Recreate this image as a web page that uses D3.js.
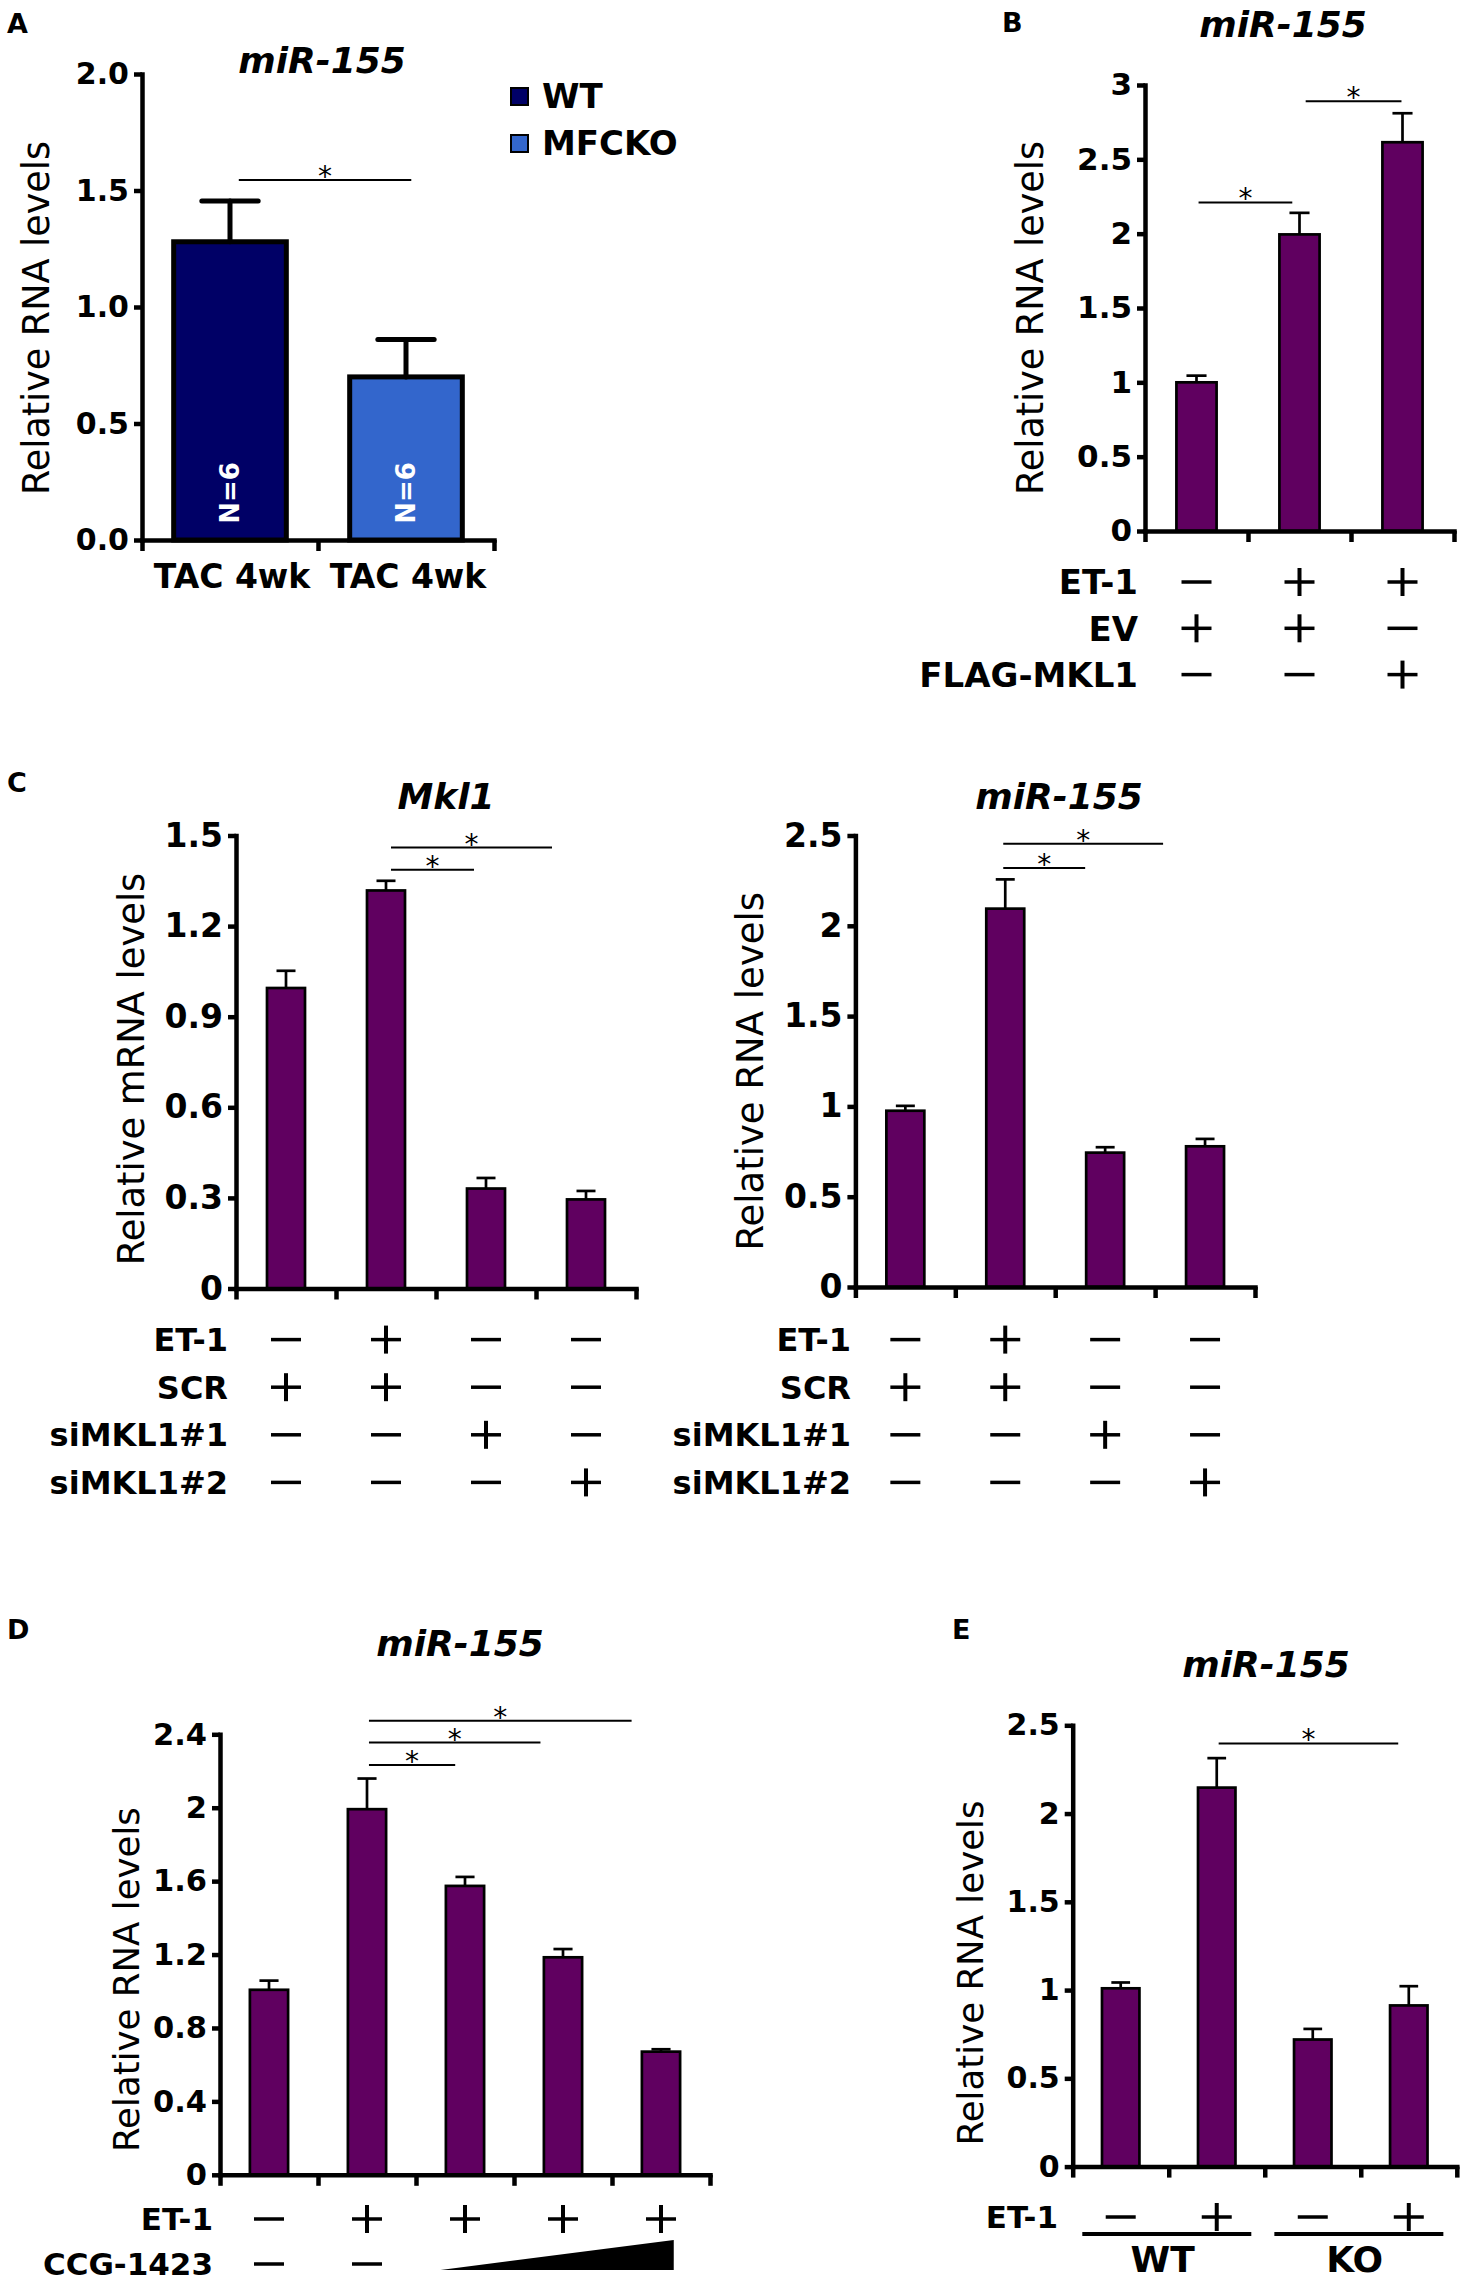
<!DOCTYPE html>
<html>
<head>
<meta charset="utf-8">
<script src="https://cdn.jsdelivr.net/npm/d3@7"></script>
<style>
  body { margin: 0; background: #fff; }
  svg text { font-family: "DejaVu Sans", sans-serif; }
</style>
</head>
<body>
<svg id="fig" width="1461" height="2284"></svg>
<script>
// ---- data ----
// A: miR-155 after TAC 4wk
var aCategories = ["TAC 4wk", "TAC 4wk"];
var aSeries = ["WT", "MFCKO"];
var aMeans = [1.28, 0.70];
var aErrs = [0.175, 0.16];
var aTicks = [0, 0.5, 1.0, 1.5, 2.0];
var aTickLabels = ["0.0", "0.5", "1.0", "1.5", "2.0"];
var aSig = [[0.05, 1.03, 1.545]];

// B: miR-155, ET-1 / EV / FLAG-MKL1
var bMeans = [1.0, 1.995, 2.615];
var bErrs = [0.045, 0.145, 0.195];
var bTicks = [0, 0.5, 1, 1.5, 2, 2.5, 3];
var bTickLabels = ["0", "0.5", "1", "1.5", "2", "2.5", "3"];
var bRows = ["ET-1", "EV", "FLAG-MKL1"];
var bSigns = [["-", "+", "+"], ["+", "+", "-"], ["-", "-", "+"]];
var bSig = [[0.02, 0.93, 2.21], [1.06, 1.99, 2.89]];

// C: Mkl1 and miR-155 with siMKL1
var cRows = ["ET-1", "SCR", "siMKL1#1", "siMKL1#2"];
var cSigns = [["-", "+", "-", "-"], ["+", "+", "-", "-"], ["-", "-", "+", "-"], ["-", "-", "-", "+"]];
var cMklMeans = [0.995, 1.318, 0.331, 0.295];
var cMklErrs = [0.057, 0.032, 0.035, 0.028];
var cMklTicks = [0, 0.3, 0.6, 0.9, 1.2, 1.5];
var cMklTickLabels = ["0", "0.3", "0.6", "0.9", "1.2", "1.5"];
var cMklSig = [[1.05, 2.66, 1.46], [1.05, 1.88, 1.387]];
var cMirMeans = [0.976, 2.095, 0.744, 0.779];
var cMirErrs = [0.027, 0.162, 0.03, 0.041];
var cMirTicks = [0, 0.5, 1, 1.5, 2, 2.5];
var cMirTickLabels = ["0", "0.5", "1", "1.5", "2", "2.5"];
var cMirSig = [[0.98, 2.58, 2.454], [0.98, 1.8, 2.32]];

// D: miR-155 with CCG-1423 dose
var dMeans = [1.008, 1.992, 1.574, 1.185, 0.671];
var dErrs = [0.05, 0.167, 0.049, 0.045, 0.013];
var dTicks = [0, 0.4, 0.8, 1.2, 1.6, 2, 2.4];
var dTickLabels = ["0", "0.4", "0.8", "1.2", "1.6", "2", "2.4"];
var dRows = ["ET-1", "CCG-1423"];
var dSigns = [["-", "+", "+", "+", "+"], ["-", "-", "w", "w", "w"]];
var dSig = [[1.02, 1.9, 2.233], [1.02, 2.77, 2.355], [1.02, 3.70, 2.474]];

// E: miR-155 WT vs KO
var eMeans = [1.01, 2.147, 0.72, 0.913];
var eErrs = [0.033, 0.167, 0.06, 0.109];
var eTicks = [0, 0.5, 1, 1.5, 2, 2.5];
var eTickLabels = ["0", "0.5", "1", "1.5", "2", "2.5"];
var eRows = ["ET-1"];
var eSigns = [["-", "+", "-", "+"]];
var eGroups = ["WT", "KO"];
var eGroupIdx = [[0, 1], [2, 3]];
var eSig = [[1.02, 2.89, 2.397]];

var purple = "#600060";
var svg = d3.select("#fig");

function drawPanel(p) {
	var n = p.means.length;
	var g = svg.append("g");
	var y = d3.scaleLinear().domain([0, p.yMax]).range([p.y0, p.y1]);
	var xc = d3.scaleLinear().domain([-0.5, n - 0.5]).range([p.x0, p.x1]);
	var xe = d3.scaleLinear().domain([0, n]).range([p.x0, p.x1]);
	var bw = (p.x1 - p.x0) / n;
	var barW = bw * p.barFrac;

	// bars
	g.selectAll("rect.bar").data(p.means).enter().append("rect")
		.attr("class", "bar")
		.attr("x", function(d, i) { return xc(i) - barW / 2; })
		.attr("y", function(d) { return y(d); })
		.attr("width", barW)
		.attr("height", function(d) { return p.y0 - y(d); })
		.attr("fill", function(d, i) { return p.colors ? p.colors[i] : purple; })
		.attr("stroke", "#000")
		.attr("stroke-width", p.barStroke);

	// error bars
	var eb = g.selectAll("g.err").data(p.means).enter().append("g")
		.attr("stroke", "#000")
		.attr("stroke-width", p.barStroke)
		.attr("stroke-linecap", p.capStyle || "butt");
	eb.append("line")
		.attr("x1", function(d, i) { return xc(i); })
		.attr("x2", function(d, i) { return xc(i); })
		.attr("y1", function(d) { return y(d); })
		.attr("y2", function(d, i) { return y(d + p.errs[i]); });
	eb.append("line")
		.attr("x1", function(d, i) { return xc(i) - barW / 4; })
		.attr("x2", function(d, i) { return xc(i) + barW / 4; })
		.attr("y1", function(d, i) { return y(d + p.errs[i]); })
		.attr("y2", function(d, i) { return y(d + p.errs[i]); });

	// y axis
	var ya = g.append("g")
		.attr("transform", "translate(" + p.x0 + ",0)")
		.call(d3.axisLeft(y).tickValues(p.ticks)
			.tickFormat(function(d, i) { return p.tickLabels[i]; })
			.tickSize(8).tickPadding(5).tickSizeOuter(0));
	ya.select(".domain").attr("stroke-width", p.axisStroke).attr("stroke-linecap", "square");
	ya.selectAll(".tick line").attr("stroke-width", p.axisStroke);
	ya.selectAll(".tick text")
		.attr("font-size", p.tickFont)
		.attr("font-weight", "bold")
		.attr("fill", "#000")
		.style("font-family", "'DejaVu Sans', sans-serif");

	// x axis with ticks at band edges
	var xa = g.append("g")
		.attr("transform", "translate(0," + p.y0 + ")")
		.call(d3.axisBottom(xe).tickValues(d3.range(n + 1))
			.tickFormat("").tickSize(11).tickSizeOuter(0));
	xa.select(".domain").attr("stroke-width", p.axisStroke).attr("stroke-linecap", "square");
	xa.selectAll(".tick line").attr("stroke-width", p.axisStroke);

	// y title
	g.append("text")
		.attr("transform", "translate(" + p.yTitleX + "," + ((p.y0 + p.y1) / 2 + p.yTitleDy) + ") rotate(-90)")
		.attr("y", p.yTitleFont * 0.36)
		.attr("text-anchor", "middle")
		.attr("font-size", p.yTitleFont)
		.text(p.yTitle);

	// chart title
	g.append("text")
		.attr("x", p.titleX)
		.attr("y", p.titleY)
		.attr("text-anchor", "middle")
		.attr("font-size", 36)
		.attr("font-weight", "bold")
		.attr("font-style", "italic")
		.text(p.title);

	// panel letter
	svg.append("text")
		.attr("x", p.letterX)
		.attr("y", p.letterY)
		.attr("font-size", 27)
		.attr("font-weight", "bold")
		.text(p.letter);

	// significance
	var sg = g.selectAll("g.sig").data(p.sig).enter().append("g");
	sg.append("line")
		.attr("x1", function(d) { return xc(d[0]); })
		.attr("x2", function(d) { return xc(d[1]); })
		.attr("y1", function(d) { return y(d[2]); })
		.attr("y2", function(d) { return y(d[2]); })
		.attr("stroke", "#000")
		.attr("stroke-width", 2);
	sg.append("text")
		.attr("x", function(d) { return (xc(d[0]) + xc(d[1])) / 2; })
		.attr("y", function(d) { return y(d[2]) + 6; })
		.attr("text-anchor", "middle")
		.attr("font-size", 28)
		.text("*");

	// condition table
	if (p.rows) {
		p.rows.forEach(function(r, ri) {
			var ry = p.rowY + ri * p.rowStep;
			g.append("text")
				.attr("x", p.rowLabelX)
				.attr("y", ry + p.rowFont * 0.36)
				.attr("text-anchor", "end")
				.attr("font-size", p.rowFont)
				.attr("font-weight", "bold")
				.text(r);
			var wedge = [];
			p.signs[ri].forEach(function(s, i) {
				var cx = xc(i);
				if (s === "w") { wedge.push(i); return; }
				g.append("line")
					.attr("x1", cx - 15).attr("x2", cx + 15)
					.attr("y1", ry).attr("y2", ry)
					.attr("stroke", "#000").attr("stroke-width", 3.5);
				if (s === "+") {
					g.append("line")
						.attr("x1", cx).attr("x2", cx)
						.attr("y1", ry - 14).attr("y2", ry + 14)
						.attr("stroke", "#000").attr("stroke-width", 4);
				}
			});
			if (wedge.length) {
				var wl = xc(d3.min(wedge)) - 0.25 * bw;
				var wr = xc(d3.max(wedge)) + 0.13 * bw;
				g.append("path")
					.attr("d", "M" + wl + "," + (ry + 6) + "L" + wr + "," + (ry + 6) + "L" + wr + "," + (ry - 24) + "Z")
					.attr("fill", "#000");
			}
		});
	}

	// group underlines (panel E)
	if (p.groups) {
		p.groups.forEach(function(gr, gi) {
			var idx = p.groupIdx[gi];
			var gl = xc(idx[0]) - 0.4 * bw;
			var grr = xc(idx[1]) + 0.36 * bw;
			g.append("line")
				.attr("x1", gl).attr("x2", grr)
				.attr("y1", p.groupLineY).attr("y2", p.groupLineY)
				.attr("stroke", "#000").attr("stroke-width", 4);
			g.append("text")
				.attr("x", (xc(idx[0]) + xc(idx[1])) / 2 - 6)
				.attr("y", p.groupLabelY)
				.attr("text-anchor", "middle")
				.attr("font-size", 36)
				.attr("font-weight", "bold")
				.text(gr);
		});
	}

	// category labels (panel A)
	if (p.categories) {
		g.selectAll("text.cat").data(p.categories).enter().append("text")
			.attr("x", function(d, i) { return xc(i) + 2; })
			.attr("y", p.catY)
			.attr("text-anchor", "middle")
			.attr("font-size", 33)
			.attr("font-weight", "bold")
			.text(function(d) { return d; });
	}
	return { x: xc, y: y };
}

// Panel A
var pa = drawPanel({
	letter: "A", letterX: 7, letterY: 33,
	title: "miR-155", titleX: 322, titleY: 73,
	means: aMeans, errs: aErrs, colors: ["#000066", "#3366cc"],
	ticks: aTicks, tickLabels: aTickLabels, yMax: 2.0,
	x0: 142, x1: 494, y0: 540, y1: 74,
	barFrac: 0.64, barStroke: 5, capStyle: "round", axisStroke: 4.5, tickFont: 30,
	yTitle: "Relative RNA levels", yTitleX: 36, yTitleDy: 11, yTitleFont: 36.5,
	sig: aSig, categories: aCategories, catY: 588
});
// N=6 inside bars
svg.selectAll("text.nlab").data(aMeans).enter().append("text")
	.attr("transform", function(d, i) { return "translate(" + pa.x(i) + ",493) rotate(-90)"; })
	.attr("y", 26 * 0.36)
	.attr("text-anchor", "middle")
	.attr("font-size", 26)
	.attr("font-weight", "bold")
	.attr("fill", "#fff")
	.text("N=6");
// legend
var leg = svg.append("g").selectAll("g").data(aSeries).enter().append("g")
	.attr("transform", function(d, i) { return "translate(511," + (88 + i * 47) + ")"; });
leg.append("rect")
	.attr("width", 17).attr("height", 17)
	.attr("fill", function(d, i) { return ["#000066", "#3366cc"][i]; })
	.attr("stroke", "#000").attr("stroke-width", 2);
leg.append("text")
	.attr("x", 31).attr("y", 20)
	.attr("font-size", 34).attr("font-weight", "bold")
	.text(function(d) { return d; });

// Panel B
drawPanel({
	letter: "B", letterX: 1002, letterY: 32,
	title: "miR-155", titleX: 1283, titleY: 37,
	means: bMeans, errs: bErrs,
	ticks: bTicks, tickLabels: bTickLabels, yMax: 3,
	x0: 1145, x1: 1454, y0: 531, y1: 85,
	barFrac: 0.39, barStroke: 2.7, axisStroke: 4.5, tickFont: 31,
	yTitle: "Relative RNA levels", yTitleX: 1030, yTitleDy: 10, yTitleFont: 36.5,
	sig: bSig, rows: bRows, signs: bSigns, rowY: 582, rowStep: 46.3, rowLabelX: 1138, rowFont: 34
});

// Panel C left
drawPanel({
	letter: "C", letterX: 7, letterY: 792,
	title: "Mkl1", titleX: 446, titleY: 809,
	means: cMklMeans, errs: cMklErrs,
	ticks: cMklTicks, tickLabels: cMklTickLabels, yMax: 1.5,
	x0: 236, x1: 636, y0: 1288.5, y1: 835.5,
	barFrac: 0.38, barStroke: 2.7, axisStroke: 4.5, tickFont: 33,
	yTitle: "Relative mRNA levels", yTitleX: 131, yTitleDy: 7, yTitleFont: 36.8,
	sig: cMklSig, rows: cRows, signs: cSigns, rowY: 1339.6, rowStep: 47.6, rowLabelX: 228, rowFont: 32
});

// Panel C right
drawPanel({
	letter: "", letterX: 0, letterY: 0,
	title: "miR-155", titleX: 1059, titleY: 809,
	means: cMirMeans, errs: cMirErrs,
	ticks: cMirTicks, tickLabels: cMirTickLabels, yMax: 2.5,
	x0: 855.4, x1: 1255, y0: 1287, y1: 835.5,
	barFrac: 0.38, barStroke: 2.7, axisStroke: 4.5, tickFont: 33,
	yTitle: "Relative RNA levels", yTitleX: 750, yTitleDy: 10, yTitleFont: 37,
	sig: cMirSig, rows: cRows, signs: cSigns, rowY: 1339.6, rowStep: 47.6, rowLabelX: 851, rowFont: 32
});

// Panel D
drawPanel({
	letter: "D", letterX: 7, letterY: 1639,
	title: "miR-155", titleX: 460, titleY: 1656,
	means: dMeans, errs: dErrs,
	ticks: dTicks, tickLabels: dTickLabels, yMax: 2.4,
	x0: 220, x1: 710, y0: 2174.8, y1: 1734.3,
	barFrac: 0.39, barStroke: 2.7, axisStroke: 4.5, tickFont: 30.5,
	yTitle: "Relative RNA levels", yTitleX: 126, yTitleDy: 25, yTitleFont: 35.6,
	sig: dSig, rows: dRows, signs: dSigns, rowY: 2219, rowStep: 45, rowLabelX: 213, rowFont: 31
});

// Panel E
drawPanel({
	letter: "E", letterX: 952, letterY: 1639,
	title: "miR-155", titleX: 1266, titleY: 1677,
	means: eMeans, errs: eErrs,
	ticks: eTicks, tickLabels: eTickLabels, yMax: 2.5,
	x0: 1072.7, x1: 1456.8, y0: 2166.6, y1: 1725.3,
	barFrac: 0.39, barStroke: 2.7, axisStroke: 4.5, tickFont: 30,
	yTitle: "Relative RNA levels", yTitleX: 970, yTitleDy: 27, yTitleFont: 35.6,
	sig: eSig, rows: eRows, signs: eSigns, rowY: 2217, rowStep: 46, rowLabelX: 1058, rowFont: 31,
	groups: eGroups, groupIdx: eGroupIdx, groupLineY: 2234, groupLabelY: 2272
});
</script>
</body>
</html>
